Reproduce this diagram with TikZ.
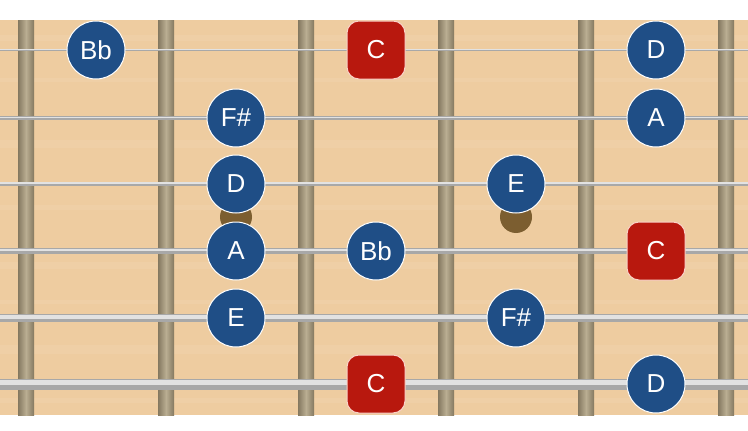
\documentclass[tikz,border=0pt]{standalone}
\usepackage{fontspec}
\setmainfont{Liberation Sans}
\definecolor{wood}{RGB}{238,204,160}
\definecolor{woodlight}{RGB}{244,216,180}
\definecolor{fretdark}{RGB}{132,120,96}
\definecolor{fretlight}{RGB}{186,174,146}
\definecolor{strdark}{RGB}{168,168,168}
\definecolor{strlight}{RGB}{226,226,226}
\definecolor{noteblue}{RGB}{31,78,134}
\definecolor{notered}{RGB}{184,24,14}
\definecolor{dotbrown}{RGB}{124,94,48}
\tikzset{
  x=1pt,y=-1pt,
  note/.style={circle,minimum size=58pt,inner sep=0pt,fill=noteblue,draw=white,line width=1pt,text=white,font=\fontsize{26}{26}\selectfont},
  root/.style={rectangle,rounded corners=12pt,minimum size=58pt,inner sep=0pt,fill=notered,draw={rgb,255:red,250;green,210;blue,200},line width=1pt,text=white,font=\fontsize{26}{26}\selectfont},
  inlay/.style={circle,minimum size=32pt,inner sep=0pt,fill=dotbrown},
}
\begin{document}
\begin{tikzpicture}
\useasboundingbox (0,0) rectangle (748,431);
\fill[white] (0,0) rectangle (748,431);
% wood
\fill[wood] (0,20) rectangle (748,415);
\foreach \yy/\hh in {35/6,78/4,140/8,205/5,262/7,300/4,345/9,398/5}{
  \fill[woodlight,opacity=0.3] (0,\yy) rectangle (748,\yy+\hh);
}
% inlays
\node[inlay] (dot1) at (236,217) {};
\node[inlay] (dot2) at (516,217) {};
% frets
\foreach \fx in {26,166,306,446,586,726}{
  \shade[left color=fretdark,right color=fretdark,middle color=fretlight,shading=axis] (\fx-8,20) rectangle (\fx+8,415);
}
% strings
\foreach \sy/\sw in {50/2.5,118/3.5,184/4.5,251/6,318/8,384/11}{
  \draw[strdark,line width=\sw pt] (0,\sy) -- (748,\sy);
  \draw[strlight,line width=0.45*\sw pt] (0,\sy-0.15*\sw) -- (748,\sy-0.15*\sw);
}
% notes
\node[note] (n1a) at (96,50) {Bb};
\node[root] (n1b) at (376,50) {C};
\node[note] (n1c) at (656,50) {D};
\node[note] (n2a) at (236,118) {F\#};
\node[note] (n2b) at (656,118) {A};
\node[note] (n3a) at (236,184) {D};
\node[note] (n3b) at (516,184) {E};
\node[note] (n4a) at (236,251) {A};
\node[note] (n4b) at (376,251) {Bb};
\node[root] (n4c) at (656,251) {C};
\node[note] (n5a) at (236,318) {E};
\node[note] (n5b) at (516,318) {F\#};
\node[root] (n6a) at (376,384) {C};
\node[note] (n6b) at (656,384) {D};
\end{tikzpicture}
\end{document}
